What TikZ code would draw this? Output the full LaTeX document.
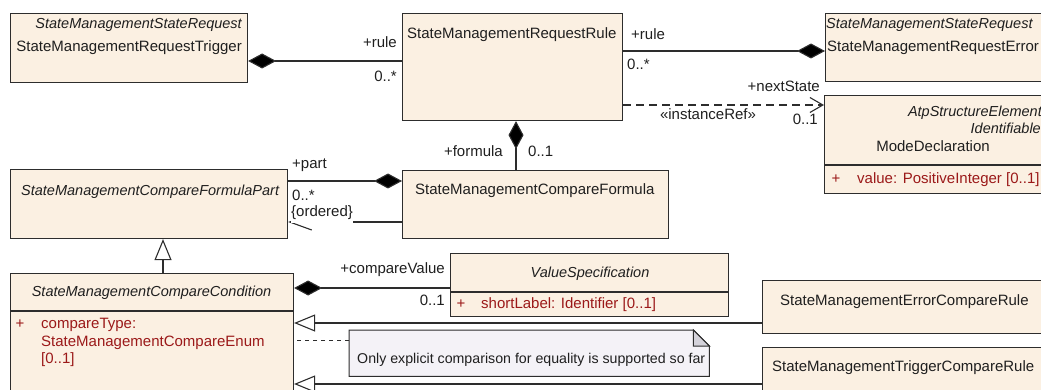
\documentclass[tikz,border=0pt]{standalone}
\usepackage{fontspec}
\setmainfont{Liberation Sans}
\usepackage{tikz}
\usetikzlibrary{arrows.meta,calc}
\definecolor{classfill}{RGB}{251,240,226}
\definecolor{classline}{RGB}{45,45,45}
\definecolor{attrred}{RGB}{155,25,25}
\definecolor{notefill}{RGB}{244,242,247}
\definecolor{foldgrey}{RGB}{212,210,218}
\tikzset{
  classbox/.style={draw=classline,fill=classfill,line width=1.1pt,anchor=north west,inner sep=0pt},
  umllabel/.style={inner sep=0pt,text height=10.5pt,text depth=3pt,text=black!88},
  composite/.style={draw=classline,line width=1.1pt,-{Diamond[length=28pt,width=15pt,fill=black]}},
  general/.style={draw=classline,line width=1.1pt,-{Triangle[length=21pt,width=17pt,fill=white]}},
  navarrow/.style={draw=classline,line width=1.1pt,-{Straight Barb[length=22pt,width=16pt]}},
  dependency/.style={draw=classline,line width=1.1pt,dash pattern=on 8pt off 5pt,-{Straight Barb[length=13pt,width=15pt]}},
  notelink/.style={draw=classline,line width=1pt,dash pattern=on 4pt off 4pt}
}
\newcommand{\umlclass}[4]{\node[classbox,minimum width=#3pt,minimum height=#4pt] (#1) at (#2) {};}
\newcommand{\umltext}[4]{\node[umllabel,anchor=#2] (#1) at (#3) {#4};}
\newcommand{\umlital}{\fontsize{14.5}{17.5}\selectfont\itshape}
\newcommand{\umlsplit}[2]{\draw[classline,line width=1.1pt] (#1.west |- 0,#2) -- (#1.east |- 0,#2);}

\begin{document}
\begin{tikzpicture}[x=1pt,y=-1pt,font=\fontsize{15}{17.5}\selectfont]
\useasboundingbox (0,0) rectangle (1041,390);
% class boxes
\umlclass{trigger}{10,13}{237}{69}
\umlclass{rule}{402,13}{220}{107}
\umlclass{errreq}{825,13}{240}{68}
\umlclass{mode}{824,95}{240}{98}
\umlclass{part}{10,169}{277}{69}
\umlclass{formula}{402,170}{266}{68}
\umlclass{cond}{10,273}{283}{130}
\umlclass{valspec}{450,253}{278}{63}
\umlclass{errrule}{762,280}{300}{53}
\umlclass{trigrule}{762,347}{300}{60}
\umlsplit{mode}{165}
\umlsplit{cond}{311}
\umlsplit{valspec}{292}
% note
\node[inner sep=0pt,minimum width=360pt,minimum height=46pt,anchor=north west] (note) at (349,330) {};
\filldraw[draw=classline,fill=notefill,line width=1pt] (note.north west) -- ([xshift=-16pt]note.north east)
  -- ([yshift=-16pt]note.north east) -- (note.south east) -- (note.south west) -- cycle;
\filldraw[draw=classline,fill=foldgrey,line width=1pt] ([xshift=-16pt]note.north east)
  -- ([xshift=-16pt,yshift=-16pt]note.north east) -- ([yshift=-16pt]note.north east) -- cycle;
\umltext{noteText}{west}{357,360}{\fontsize{14.2}{17}\selectfont Only explicit comparison for equality is supported so far}

% class texts
\umltext{triggerStereo}{east}{242,25}{\umlital StateManagementStateRequest}
\umltext{triggerName}{east}{242,48}{StateManagementRequestTrigger}
\umltext{ruleName}{west}{407,35}{StateManagementRequestRule}
\umltext{errreqStereo}{west}{826,25}{\umlital StateManagementStateRequest}
\umltext{errreqName}{west}{827,48}{StateManagementRequestError}
\umltext{modeStereo}{east}{1042,113}{\umlital AtpStructureElement}
\umltext{modeStereoB}{east}{1041,130}{\umlital Identifiable}
\umltext{modeName}{center}{933,148}{ModeDeclaration}
\umltext{modeVis}{center}{836,180}{\color{attrred}+}
\umltext{modeAttr}{west}{857,180}{\color{attrred}value: PositiveInteger [0..1]}
\umltext{partName}{west}{21,192}{\umlital StateManagementCompareFormulaPart}
\umltext{formulaName}{west}{415,191}{StateManagementCompareFormula}
\umltext{condName}{center}{151.5,293}{\umlital StateManagementCompareCondition}
\umltext{condVis}{center}{20,325}{\color{attrred}+}
\umltext{condAttrA}{west}{41,325}{\color{attrred}compareType:}
\umltext{condAttrB}{west}{41,343}{\color{attrred}StateManagementCompareEnum}
\umltext{condAttrC}{west}{41,360}{\color{attrred}[0..1]}
\umltext{valspecName}{center}{590,274}{\umlital ValueSpecification}
\umltext{valspecVis}{center}{461,305}{\color{attrred}+}
\umltext{valspecAttr}{west}{481,305}{\color{attrred}shortLabel: Identifier [0..1]}
\umltext{errruleName}{west}{780,302}{StateManagementErrorCompareRule}
\umltext{trigruleName}{west}{772,368}{StateManagementTriggerCompareRule}

% connectors
\draw[composite] ([yshift=-48pt]rule.north west) -- ([yshift=-48pt]trigger.north east);
\draw[composite] ([yshift=-38pt]rule.north east) -- ([yshift=-38pt]errreq.north west);
\draw[dependency] ([yshift=-92pt]rule.north east) -- ([yshift=-10pt]mode.north west);
\draw[composite] ([xshift=114pt]formula.north west) -- ([xshift=114pt]rule.south west);
\draw[composite] ([yshift=-12pt]part.north east) -- ([yshift=-11pt]formula.north west);
\draw[navarrow] ([yshift=-52pt]formula.north west) -- ([yshift=-53pt]part.north east);
\draw[general] ([xshift=153pt]cond.north west) -- ([xshift=153pt]part.south west);
\draw[composite] ([yshift=-35pt]valspec.north west) -- ([yshift=-15pt]cond.north east);
\draw[general] ([yshift=-43pt]errrule.north west) -- ([yshift=-50pt]cond.north east);
\draw[general] ([yshift=-37pt]trigrule.north west) -- ([yshift=-111pt]cond.north east);
\draw[notelink] ([yshift=-10pt]note.north west) -- ([yshift=-67pt]cond.north east);

% role names and multiplicities
\umltext{ruleRoleA}{east}{397,44}{+rule}
\umltext{ruleMultA}{east}{397,78}{0..*}
\umltext{ruleRoleB}{west}{631,36}{+rule}
\umltext{ruleMultB}{west}{627,66}{0..*}
\umltext{nextRole}{east}{820,88}{+nextState}
\umltext{nextStereo}{center}{708,116}{«instanceRef»}
\umltext{nextMult}{east}{818,121}{0..1}
\umltext{formulaRole}{east}{503,153}{+formula}
\umltext{formulaMult}{west}{528,153}{0..1}
\umltext{partRole}{west}{292,165}{+part}
\umltext{partMult}{west}{292,197}{0..*}
\node[umllabel,anchor=north west,fill=white,text depth=6.5pt] (partOrder) at (291,206) {\{ordered\}};
\umltext{valueRole}{east}{445,270}{+compareValue}
\umltext{valueMult}{east}{445,302}{0..1}
\end{tikzpicture}
\end{document}
